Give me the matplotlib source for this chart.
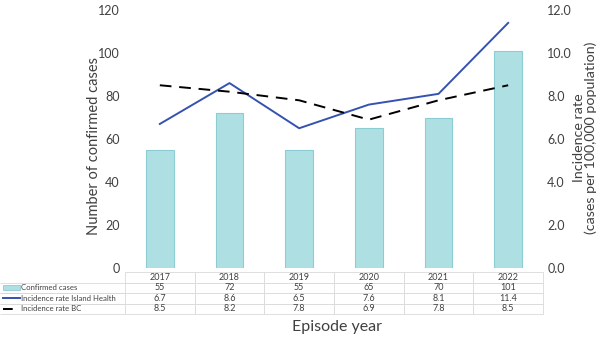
#Campylobacteriosis-style chart: cases (bars) + incidence rates (lines) with data table

#Imports
import matplotlib
matplotlib.use("Agg")
import matplotlib.pyplot as plt
from matplotlib.lines import Line2D
from matplotlib.patches import Rectangle

plt.rcParams['font.family'] = ['Lato', 'DejaVu Sans']

years = ["2017", "2018", "2019", "2020", "2021", "2022"]
confirmed_cases = [55, 72, 55, 65, 70, 101]
rate_island_health = [6.7, 8.6, 6.5, 7.6, 8.1, 11.4]
rate_bc = [8.5, 8.2, 7.8, 6.9, 7.8, 8.5]
row_labels = ["Confirmed cases", "Incidence rate Island Health", "Incidence rate BC"]

BAR_FILL = "#aedfe3"
BAR_EDGE = "#8ccdd3"
BLUE = "#3552b0"
GRID = "#d9d9d9"
TXT = "#404040"

fig = plt.figure(figsize=(6, 3.37), dpi=100)
ax = fig.add_axes([125 / 600, 1 - 268 / 337, 418 / 600, 258 / 337])
ax2 = ax.twinx()

x = list(range(len(years)))
ax.bar(x, confirmed_cases, width=0.4, color=BAR_FILL, edgecolor=BAR_EDGE, linewidth=0.8, zorder=1)
ax2.plot(x, rate_island_health, color=BLUE, linewidth=1.4, zorder=3)
ax2.plot(x, rate_bc, color="black", linewidth=1.4, dashes=(6, 4), zorder=3)

ax.set_xlim(-0.5, len(years) - 0.5)
ax.set_ylim(0, 120)
ax2.set_ylim(0, 12)
ax.set_yticks(range(0, 121, 20))
ax2.set_yticks([0, 2, 4, 6, 8, 10, 12])
ax2.set_yticklabels([f"{v:.1f}" for v in ax2.get_yticks()])
ax.set_xticks([])

for a in (ax, ax2):
    for s in a.spines.values():
        s.set_visible(False)
    a.tick_params(axis='y', length=0, labelsize=9, labelcolor=TXT)
ax.tick_params(axis='y', pad=4)
ax2.tick_params(axis='y', pad=3)

# axis titles placed in figure pixels
fig.text(94 / 600, 1 - 146 / 337, "Number of confirmed cases", fontsize=10.5, color=TXT,
         rotation=90, ha='center', va='center')
fig.text(585 / 600, 1 - 138 / 337, "Incidence rate\n(cases per 100,000 population)", fontsize=10.3,
         color=TXT, rotation=90, ha='center', va='center', linespacing=0.95, multialignment='center')

# data table under the chart
cell_text = [["", *years]]
cell_text.append([row_labels[0], *[str(v) for v in confirmed_cases]])
cell_text.append([row_labels[1], *[f"{v:.1f}" for v in rate_island_health]])
cell_text.append([row_labels[2], *[f"{v:.1f}" for v in rate_bc]])

lab_w = 125 / 418
tb_top = -(272 - 268) / 258
tb_h = (314 - 272) / 258
tbl = ax.table(cellText=cell_text, colWidths=[lab_w] + [1 / 6] * 6,
               bbox=[-lab_w, tb_top - tb_h, 1 + lab_w, tb_h], cellLoc='center')
tbl.auto_set_font_size(False)
for (r, c), cell in tbl.get_celld().items():
    cell.set_edgecolor(GRID)
    cell.set_linewidth(0.6)
    cell.get_text().set_fontsize(6.5)
    cell.get_text().set_color(TXT)
    if c == 0:
        cell.get_text().set_fontsize(5.6)
        cell.get_text().set_horizontalalignment('left')
        cell.PAD = 21 / 125
        cell.visible_edges = '' if r == 0 else 'BT'

# legend keys in the label column
def key_y(row):
    return tb_top - tb_h * (row + 0.5) / 4

kx0 = -lab_w + 3 / 418
kx1 = -lab_w + 20 / 418
ax.add_patch(Rectangle((kx0, key_y(1) - 2.5 / 258), kx1 - kx0, 5 / 258, transform=ax.transAxes,
                       facecolor=BAR_FILL, edgecolor=BAR_EDGE, linewidth=0.6, clip_on=False))
ax.add_line(Line2D([kx0, kx1], [key_y(2)] * 2, transform=ax.transAxes, color=BLUE,
                   linewidth=1.4, clip_on=False))
ax.add_line(Line2D([kx0, kx1], [key_y(3)] * 2, transform=ax.transAxes, color="black",
                   linewidth=1.4, dashes=(5, 4), clip_on=False))

fig.text(337 / 600, 1 - 327 / 337, "Episode year", fontsize=11.5, color=TXT, ha='center', va='center')

fig.savefig("out.png", dpi=100)
